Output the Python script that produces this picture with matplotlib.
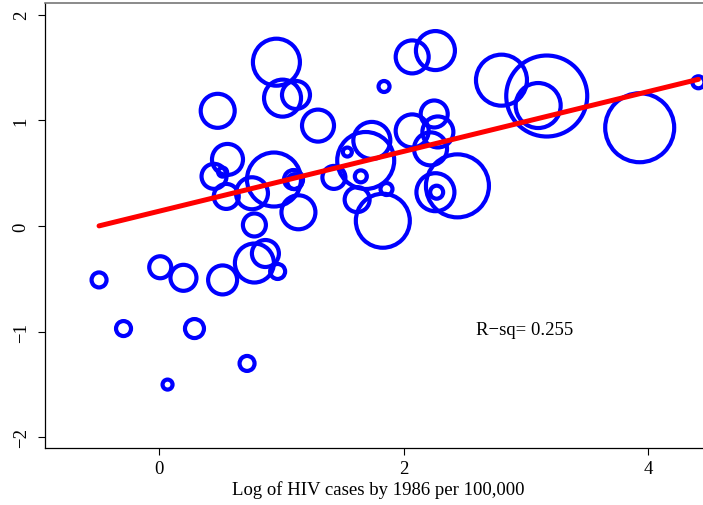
import numpy as np
import matplotlib.pyplot as plt

plt.rcParams['font.family'] = ['Liberation Serif', 'DejaVu Serif']

# log HIV cases by 1986 (x), outcome (y) and bubble radius for each country
hiv_log = [-0.49, -0.29, 0.07, 0.01, 0.20, 0.29, 0.52, 0.72, 0.78, 0.87,
           0.97, 0.48, 0.56, 0.45, 0.52, 0.55, 0.76, 0.94, 1.10, 1.11,
           1.14, 0.78, 0.96, 1.01, 1.12, 1.30, 1.43, 1.54, 1.65, 1.62,
           1.69, 1.74, 1.86, 1.83, 1.84, 2.07, 2.26, 2.07, 2.25, 2.28,
           2.22, 2.26, 2.27, 2.44, 2.80, 3.17, 3.10, 3.93, 4.41]
outcome = [-0.51, -0.97, -1.50, -0.39, -0.49, -0.97, -0.51, -1.30, -0.35, -0.26,
           -0.43, 1.09, 0.63, 0.47, 0.51, 0.28, 0.31, 0.44, 0.44, 0.42,
           0.13, 0.01, 1.55, 1.21, 1.24, 0.95, 0.46, 0.70, 0.47, 0.25,
           0.62, 0.81, 0.35, 0.05, 1.32, 1.60, 1.66, 0.90, 1.06, 0.89,
           0.73, 0.32, 0.32, 0.38, 1.38, 1.23, 1.14, 0.93, 1.36]
circ = [7.5, 7.5, 5.0, 11.0, 13.0, 9.5, 14.5, 7.5, 19.5, 13.5,
        7.5, 17.0, 15.5, 12.5, 4.5, 12.5, 16.0, 27.0, 9.5, 7.5,
        17.0, 11.5, 23.5, 18.5, 14.0, 16.0, 11.5, 4.5, 6.0, 12.5,
        28.5, 18.5, 6.0, 27.0, 5.5, 16.5, 19.5, 16.5, 13.5, 15.5,
        16.5, 19.0, 6.5, 31.5, 25.5, 40.5, 22.5, 34.5, 6.0]

# fitted regression
intercept = 0.14
slope = 0.283
r_sq = 0.255

fig = plt.figure(figsize=(7.03, 5.06), dpi=100)
ax = fig.add_axes([45 / 703, 57 / 506, 666 / 703, 445 / 506])

x = np.array(hiv_log)
y = np.array(outcome)
r = np.array(circ)
sizes = (2 * r * 72 / 100) ** 2

ax.scatter(x, y, s=sizes, facecolors='none', edgecolors='#0000ff',
           linewidths=3, zorder=2)

xs = np.array([x.min(), x.max()])
ax.plot(xs, intercept + slope * xs, color='#ff0000', lw=3.6,
        solid_capstyle='round', zorder=3)

ax.text(2.99, -0.975, f"R\u2212sq= {r_sq}", fontsize=13.5,
        ha='center', va='center')

ax.set_xlim(-0.932, 4.513)
ax.set_ylim(-2.10, 2.11)
ax.set_xticks([0, 2, 4])
ax.set_yticks([-2, -1, 0, 1, 2])
ax.set_xticklabels(['0', '2', '4'])
ax.set_yticklabels(['\u22122', '\u22121', '0', '1', '2'], rotation=90,
                   va='center')
ax.tick_params(axis='both', labelsize=13.5, length=5, width=0.8)
ax.tick_params(axis='x', pad=4)
ax.tick_params(axis='y', pad=6)
ax.set_xlabel('Log of HIV cases by 1986 per 100,000', fontsize=13.5,
              labelpad=2)

for side in ['left', 'bottom']:
    ax.spines[side].set_linewidth(0.9)
ax.spines['top'].set_color('#777777')
ax.spines['top'].set_linewidth(1.2)
ax.spines['right'].set_visible(False)

fig.savefig('out.png', dpi=100)
